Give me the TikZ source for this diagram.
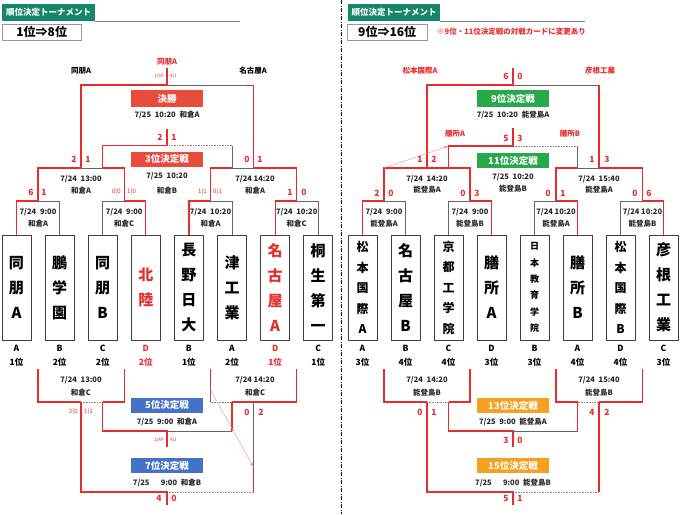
\documentclass[tikz,border=0pt]{standalone}
\usepackage{fontspec}
\setmainfont{Noto Sans CJK JP}
\usetikzlibrary{positioning,arrows.meta}
\definecolor{bred}{RGB}{230,45,45}
\definecolor{hgreen}{RGB}{22,135,102}
\definecolor{mred}{RGB}{232,76,61}
\definecolor{mblue}{RGB}{68,114,196}
\definecolor{mgreen}{RGB}{40,168,75}
\definecolor{morange}{RGB}{245,160,30}
\tikzset{
  win/.style={draw=bred, line width=1.2pt},
  lose/.style={draw=black!60, line width=0.7pt},
  dots/.style={draw=black!45, densely dotted, line width=0.6pt},
  arw/.style={draw=bred!55, line width=0.4pt, -{Latex[length=4pt,width=3pt]}},
  team/.style={draw=black!75, line width=0.7pt, minimum width=29pt, minimum height=105pt, inner sep=0pt, align=center},
  tbig/.style={font=\fontsize{15}{25}\selectfont\bfseries},
  tmid/.style={font=\fontsize{12}{20.5}\selectfont\bfseries},
  tsml/.style={font=\fontsize{9}{16.4}\selectfont\bfseries},
  rank/.style={inner sep=0pt, font=\fontsize{8.5}{9}\selectfont\bfseries},
  info/.style={inner sep=0pt, text=black!85, font=\fontsize{7.5}{9}\selectfont\bfseries},
  score/.style={inner sep=0pt, text=bred, font=\fontsize{8.5}{9}\selectfont\bfseries},
  pk/.style={inner sep=0pt, text=bred, font=\fontsize{6}{6}\selectfont},
  pks/.style={inner sep=0pt, text=bred, font=\fontsize{4.5}{5}\selectfont},
  who/.style={inner sep=0pt, font=\fontsize{7.5}{9}\selectfont\bfseries},
  game/.style={fill=#1, text=white, minimum width=72pt, minimum height=15pt, inner sep=0pt, font=\fontsize{9.5}{10}\selectfont\bfseries},
}
\begin{document}
\begin{tikzpicture}[x=1pt,y=-1pt]
\useasboundingbox (0,0) rectangle (687,514);
% headers
\node[fill=hgreen, text=white, minimum width=93pt, minimum height=17pt, inner sep=0pt, anchor=north west,
  font=\fontsize{8.5}{9}\selectfont\bfseries] (hl) at (2,4) {順位決定トーナメント};
\draw[black!50, line width=1pt] (hl.south east) -- ++(145,0);
\node[draw=black!40, minimum width=79pt, minimum height=16pt, inner sep=0pt, anchor=north west,
  font=\fontsize{12}{12}\selectfont\bfseries] (bl) at (2,24) {1位⇒8位};
\node[fill=hgreen, text=white, minimum width=92pt, minimum height=17pt, inner sep=0pt, anchor=north west,
  font=\fontsize{8.5}{9}\selectfont\bfseries] (hr) at (348,4) {順位決定トーナメント};
\draw[black!50, line width=1pt] (hr.south east) -- ++(145,0);
\node[draw=black!40, minimum width=80pt, minimum height=16pt, inner sep=0pt, anchor=north west,
  font=\fontsize{12}{12}\selectfont\bfseries] (br) at (347,24) {9位⇒16位};
\node[text=bred, inner sep=0pt, anchor=west, font=\fontsize{7.5}{8}\selectfont\bfseries] (note) at (437,32)
  {※9位・11位決定戦の対戦カードに変更あり};
\draw[dash pattern=on 4pt off 1.5pt on 1pt off 1.5pt, line width=0.6pt] (341,0) -- (341,514);

% teams
\foreach \x/\nm/\c/\g/\r/\fs [count=\i] in {
  16.5/{同\\朋\\A}/black/A/1位/tbig, 59.6/{鵬\\学\\園}/black/B/2位/tbig,
  102.7/{同\\朋\\B}/black/C/2位/tbig, 145.8/{北\\陸}/bred/D/2位/tbig,
  188.9/{長\\野\\日\\大}/black/B/1位/tbig, 232/{津\\工\\業}/black/A/2位/tbig,
  275.1/{名\\古\\屋\\A}/bred/D/1位/tbig, 318.2/{桐\\生\\第\\一}/black/C/1位/tbig}{
  \node[team,\fs,text=\c] (L\i) at (\x,287.5) {\nm};
  \node[rank,text=\c] (LG\i) at (\x,348) {\g};
  \node[rank,text=\c] (LR\i) at (\x,362) {\r};
}
\foreach \x/\nm/\g/\r/\fs [count=\i] in {
  362.5/{松\\本\\国\\際\\A}/A/3位/tmid, 405.5/{名\\古\\屋\\B}/B/4位/tbig,
  448.5/{京\\都\\工\\学\\院}/C/4位/tmid, 491.5/{膳\\所\\A}/D/3位/tbig,
  534.5/{日\\本\\教\\育\\学\\院}/B/3位/tsml, 577.5/{膳\\所\\B}/A/4位/tbig,
  620.5/{松\\本\\国\\際\\B}/D/4位/tmid, 663.5/{彦\\根\\工\\業}/C/3位/tbig}{
  \node[team,\fs] (R\i) at (\x,287.5) {\nm};
  \node[rank] (RG\i) at (\x,348) {\g};
  \node[rank] (RR\i) at (\x,362) {\r};
}

% 1-8
\coordinate (m1) at (38,201); \coordinate (m2) at (124.2,201);
\coordinate (m3) at (210.5,201); \coordinate (m4) at (296.7,201);
\coordinate (s1) at (81,168); \coordinate (q1) at (102.7,168);
\coordinate (q2) at (232,168); \coordinate (s2) at (253.5,168);
\coordinate (f1) at (167,85); \coordinate (t3) at (167,145.5);
\draw[lose] (L2.north) |- (m1); \draw[lose] (L3.north) |- (m2);
\draw[lose] (L6.north) |- (m3); \draw[lose] (L8.north) |- (m4);
\draw[win] (L1.north) |- (m1); \draw[win] (L4.north) |- (m2);
\draw[win] (L5.north) |- (m3); \draw[win] (L7.north) |- (m4);
\draw[lose] (q1) -- (s1); \draw[lose] (q2) -- (s2);
\draw[win] (m1) |- (s1); \draw[win] (m2) |- (q1);
\draw[win] (m3) |- (q2); \draw[win] (m4) |- (s2);
\draw[lose] (s2 |- f1) -- (f1);
\draw[win] (s1) |- (f1) -- ++(0,-17); \draw[win] (s2) -- (s2 |- f1);
\draw[lose] (q2) -- (q2 |- t3); \draw[dots] (q2 |- t3) -- (t3);
\draw[win] (q1) |- (t3) -- ++(0,-17);

\coordinate (b1) at (38,369); \coordinate (b2) at (124.2,369);
\coordinate (b3) at (210.5,369); \coordinate (b4) at (296.7,369);
\coordinate (n1) at (81,402); \coordinate (p1) at (102.7,402);
\coordinate (p2) at (232,402); \coordinate (n2) at (253.5,402);
\coordinate (c5) at (167,431); \coordinate (c7) at (167,492);
\coordinate (k7) at (253.5,467);
\draw[dots] (n1) -- (p1);
\draw[win] (b1) |- (n1); \draw[win] (b2) |- (p1);
\draw[win] (b3) -- ++(0,21) coordinate (a7);
\draw[lose, line width=0.4pt] (a7) -- (a7 |- p2); \draw[dots] (a7 |- p2) -- (p2);
\draw[win] (b4) |- (p2);
\draw[lose] (c5) -- (p2 |- c5);
\draw[win] (p1) |- (c5) -- ++(0,16); \draw[win] (p2) -- (p2 |- c5);
\draw[lose, line width=0.4pt] (n2) -- (k7); \draw[dots] (c7) -- (n2 |- c7);
\draw[win] (n1) |- (c7) -- ++(0,13); \draw[win] (k7) -- (n2 |- c7);
\draw[arw] (a7) -- (k7);

% 9-16
\coordinate (m5) at (384,201); \coordinate (m6) at (470,201);
\coordinate (m7) at (556,201); \coordinate (m8) at (642.5,201);
\coordinate (s3) at (427,168); \coordinate (q3) at (448.5,168);
\coordinate (q4) at (577.5,168); \coordinate (s4) at (599,168);
\coordinate (f9) at (513,85); \coordinate (t11) at (513,146);
\draw[lose] (R2.north) |- (m5); \draw[lose] (R3.north) |- (m6);
\draw[lose] (R5.north) |- (m7); \draw[lose] (R7.north) |- (m8);
\draw[win] (R1.north) |- (m5); \draw[win] (R4.north) |- (m6);
\draw[win] (R6.north) |- (m7); \draw[win] (R8.north) |- (m8);
\draw[lose] (q4) -- (s4);
\draw[win] (m5) |- (s3); \draw[win] (m6) |- (s3);
\draw[win] (m7) |- (q4); \draw[win] (m8) |- (s4);
\draw[lose] (f9) -- (s4 |- f9);
\draw[win] (s3) |- (f9) -- ++(0,-17); \draw[win] (s4) -- (s4 |- f9);
\draw[dots] (t11) -- (q4 |- t11); \draw[lose] (q4) -- (q4 |- t11);
\draw[win] (q3) |- (t11) -- ++(0,-18);
\draw[arw] (m5 |- s3) -- (q3 |- t11);

\coordinate (b5) at (384,369); \coordinate (b6) at (470,369);
\coordinate (b7) at (556,369); \coordinate (b8) at (642.5,369);
\coordinate (n3) at (427,402); \coordinate (p3) at (448.5,402);
\coordinate (p4) at (577.5,402); \coordinate (n4) at (599,402);
\coordinate (c13) at (513,431); \coordinate (c15) at (513,492);
\draw[dots] (n3) -- (p3); \draw[dots] (p4) -- (n4);
\draw[win] (b5) |- (n3); \draw[win] (b6) |- (p3);
\draw[win] (b7) |- (p4); \draw[win] (b8) |- (n4);
\draw[lose] (c13) -- (p4 |- c13);
\draw[win] (p3) |- (c13) -- ++(0,16); \draw[win] (p4) -- (p4 |- c13);
\draw[dots] (c15) -- (n4 |- c15);
\draw[win] (n3) |- (c15) -- ++(0,13); \draw[win] (n4) -- (n4 |- c15);

% match titles
\node[game=mred, minimum height=17pt] (g1) at (167,98.5) {決勝};
\node[game=mred] (g3) at (167,159) {3位決定戦};
\node[game=mblue] (g5) at (167,405) {5位決定戦};
\node[game=mblue] (g7) at (167,465.5) {7位決定戦};
\node[game=mgreen, minimum height=17pt] (g9) at (513,98.5) {9位決定戦};
\node[game=mgreen] (g11) at (513,160.5) {11位決定戦};
\node[game=morange] (g13) at (513,405.5) {13位決定戦};
\node[game=morange] (g15) at (513,465.5) {15位決定戦};

% dates and venues
\foreach \x/\y/\t [count=\i] in {
  38/212/{7/24\enspace 9:00}, 38/224/和倉A, 124.2/212/{7/24\enspace 9:00}, 124.2/224/和倉C,
  210.5/212/{7/24\enspace 10:20}, 210.5/224/和倉A, 296.7/212/{7/24\enspace 10:20}, 296.7/224/和倉C,
  81/179/{7/24\enspace 13:00}, 81/191/和倉A, 255/179/{7/24 14:20}, 255/191/和倉A,
  167/115/{7/25\enspace 10:20\enspace 和倉A}, 167/176/{7/25\enspace 10:20}, 167/191/和倉B,
  81/380/{7/24\enspace 13:00}, 81/393/和倉C, 255/380/{7/24 14:20}, 255/393/和倉C,
  167/422/{7/25\enspace 9:00\enspace 和倉A}, 167/483/{7/25\quad\enspace 9:00\enspace 和倉B},
  384/212/{7/24\enspace 9:00}, 384/224/能登島A, 470/212/{7/24\enspace 9:00}, 470/224/能登島B,
  556/212/{7/24 10:20}, 556/224/能登島A, 642.5/212/{7/24 10:20}, 642.5/224/能登島B,
  427/179/{7/24\enspace 14:20}, 427/190/能登島A, 599/179/{7/24\enspace 15:40}, 599/190/能登島A,
  513/115/{7/25\enspace 10:20\enspace 能登島A}, 513/177/{7/25\enspace 10:20}, 513/189/能登島B,
  427/380/{7/24\enspace 14:20}, 427/393/能登島B, 599/380/{7/24\enspace 15:40}, 599/393/能登島B,
  513/422/{7/25\enspace 9:00\enspace 能登島A}, 513/483/{7/25\quad\enspace 9:00\enspace 能登島B}}
  \node[info] (d\i) at (\x,\y) {\t};

% scores
\foreach \x/\y/\t [count=\i] in {
  31/192/6, 44/192/1, 290/192/1, 304/192/0, 74/159/2, 88/159/1, 247/159/0, 260/159/1,
  160/137/2, 174/137/1, 247/412/0, 261/412/2, 159/498/4, 174/498/0,
  377/193/2, 391/193/0, 463/193/0, 477/193/3, 548/193/0, 563/193/1, 635/193/0, 649/193/6,
  420/159/1, 434/159/2, 592/159/1, 607/159/3, 506/76/6, 520/76/0, 506/138/5, 520/138/3,
  420/412/0, 434/412/1, 592/412/4, 607/412/2, 506/440/3, 520/440/0, 506/498/5, 520/498/1}
  \node[score] (sc\i) at (\x,\y) {\t};
\node[pk, anchor=east] (pk1) at (121,192) {0(0};
\node[pk, anchor=west] (pk2) at (127,192) {1)0};
\node[pk, anchor=east] (pk3) at (207,192) {1(1};
\node[pk, anchor=west] (pk4) at (213,192) {0)1};
\node[pk, anchor=east] (pk5) at (78,412) {2(0};
\node[pk, anchor=west] (pk6) at (84,412) {1)2};
\node[pks, anchor=east] (pk7) at (164,76) {1(5P};
\node[pks, anchor=west] (pk8) at (170,76) {4)1};
\node[pks, anchor=east] (pk9) at (164,440) {2(4P};
\node[pks, anchor=west] (pk10) at (170,440) {4)2};

% who advanced
\node[who, text=bred] (w1) at (167,62) {同朋A};
\node[who] (w2) at (81,71) {同朋A};
\node[who] (w3) at (253,71) {名古屋A};
\node[who, text=bred] (w4) at (420,71) {松本国際A};
\node[who, text=bred] (w5) at (600,71) {彦根工業};
\node[who, text=bred] (w6) at (455,134) {膳所A};
\node[who, text=bred] (w7) at (570,134) {膳所B};
\end{tikzpicture}
\end{document}
